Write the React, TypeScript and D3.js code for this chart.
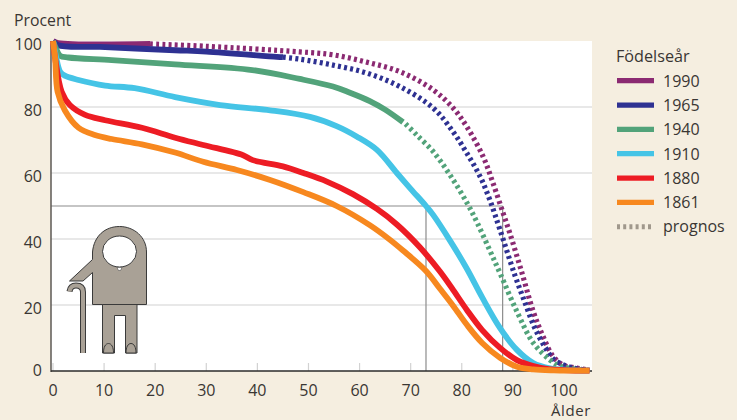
import React, { useRef, useEffect } from 'react';
import * as d3 from 'd3';

const FONT = '"Open Sans", sans-serif';
const TEXT = '#3a3633';

// each series: ages + survival percent. "p" = prognosis (dotted) part
const age1861 = [0, 0.4, 0.9, 2.3, 5, 8.2, 11.5, 17.4, 23.9, 29.4, 36, 42.5, 49, 55.5, 62, 66, 68.5, 73, 75.7, 78.3, 81, 84, 87.5, 90.8, 94, 98, 105];
const val1861 = [100, 95, 84.6, 79, 73.7, 71.5, 70.3, 68.7, 66.2, 63.4, 60.9, 57.9, 54.2, 50, 44.2, 39.7, 36.5, 30.3, 25, 19.8, 14, 8.5, 4, 1.3, 0.5, 0.2, 0.1];

const age1880 = [0, 0.4, 1.7, 3.3, 6.3, 10.2, 17.4, 23.9, 29.4, 37.2, 39.1, 45, 49, 53.6, 58.7, 63.4, 67.3, 71.8, 75.7, 78.3, 81, 84, 87.5, 90.8, 94, 97, 105];
const val1880 = [100, 95, 84.6, 80.6, 77.6, 76, 73.7, 70.7, 68.5, 65.4, 63.9, 62, 60, 57.4, 53.6, 49.1, 44.4, 37.5, 30.2, 24.6, 18.5, 12.4, 7, 3.3, 1.5, 0.6, 0.1];

const age1910 = [0, 0.5, 1.4, 2.3, 5, 10.2, 16, 23.9, 32.7, 42.5, 50.3, 55.5, 59.5, 63.4, 67.3, 70, 73, 74.4, 77.7, 81, 84, 87.5, 90.8, 94, 97, 105];
const val1910 = [100, 96, 90.7, 89.5, 88.2, 86.5, 85.7, 83, 80.6, 79, 77, 74.2, 71, 67, 60, 55.2, 50, 47.3, 39.5, 31, 22.3, 13, 6.4, 2.4, 0.9, 0.1];

const age1940 = [0, 0.5, 1.4, 3, 11.5, 23.9, 39, 48.3, 54.8, 58, 62, 65, 68.5];
const val1940 = [100, 98, 95.5, 95, 94.2, 92.9, 91.2, 88.5, 86.2, 84.4, 81.8, 79.2, 75.4];
const age1940p = [69, 71.2, 74.4, 77.7, 81, 83, 85.5, 87.5, 90.8, 94, 97.3, 99.2, 105];
const val1940p = [74.9, 71.5, 66.5, 59.4, 51, 45, 36.5, 29.6, 18, 8.5, 3.3, 1.5, 0.1];

const age1965 = [0, 1, 9.2, 23.9, 30, 43.8, 45];
const val1965 = [100, 98.7, 98.2, 97.2, 96.8, 95.2, 95.1];
const age1965p = [45, 48.3, 54.8, 61.4, 67.9, 74.4, 78.3, 81, 83.6, 85.5, 87.5, 90.4, 92.4, 94.3, 96.3, 98.2, 101.8, 105];
const val1965p = [95.1, 94.5, 92.7, 90.3, 86.2, 79.7, 72.5, 66, 58.9, 51.8, 42.7, 29, 20.6, 13, 7.2, 3.3, 0.9, 0.2];

const age1990 = [0, 1, 19];
const val1990 = [100, 99.4, 99.1];
const age1990p = [19, 30, 48.3, 54.8, 61.4, 67.9, 74.4, 78.3, 81, 84.2, 86.1, 88.1, 89.4, 91.8, 94, 95.9, 97.8, 99.8, 102.5, 105];
const val1990p = [99.1, 98.4, 96.7, 95.8, 93.6, 90.7, 85.2, 79.7, 74, 64.9, 57, 47.8, 41.8, 29.6, 18, 10.5, 4.6, 1.8, 0.9, 0.3];

const cohorts = ['1990', '1965', '1940', '1910', '1880', '1861'];
const colors = ['#8b2a72', '#2e3192', '#52a37a', '#45c4e6', '#ed1c24', '#f7881f'];
const solidAges = [age1990, age1965, age1940, age1910, age1880, age1861];
const solidVals = [val1990, val1965, val1940, val1910, val1880, val1861];
const dottedAges = [age1990p, age1965p, age1940p, null, null, null];
const dottedVals = [val1990p, val1965p, val1940p, null, null, null];

const xTicks = [0, 10, 20, 30, 40, 50, 60, 70, 80, 90, 100];
const yTicks = [0, 20, 40, 60, 80, 100];
const medianAges = [73, 88];

const App: React.FC = () => {
    const ref = useRef<SVGSVGElement>(null);

    useEffect(() => {
        if (!ref.current) return;
        const svg = d3.select(ref.current);
        svg.selectAll('*').remove();

        const x = d3.scaleLinear().domain([0, 105]).range([53, 589.5]);
        const y = d3.scaleLinear().domain([0, 100]).range([371, 41]);

        svg.append('rect').attr('width', 737).attr('height', 420).attr('fill', '#f5eee0');
        svg.append('rect').attr('x', 51).attr('y', 41).attr('width', 541).attr('height', 330).attr('fill', '#fff');

        // grid
        svg.selectAll('.grid').data(yTicks.filter(d => d > 0 && d < 100)).enter().append('line')
            .attr('x1', 51).attr('x2', 592).attr('y1', d => y(d)).attr('y2', d => y(d))
            .attr('stroke', '#d2d2d2').attr('stroke-width', 1.2);
        svg.selectAll('.xtick').data(xTicks).enter().append('line')
            .attr('x1', d => x(d)).attr('x2', d => x(d)).attr('y1', 371).attr('y2', 363)
            .attr('stroke', '#d2d2d2').attr('stroke-width', 1.2);

        // 50 % guide lines
        svg.append('line').attr('x1', 51).attr('x2', x(medianAges[1])).attr('y1', y(50)).attr('y2', y(50))
            .attr('stroke', '#8c8c8c').attr('stroke-width', 1.2);
        svg.selectAll('.median').data(medianAges).enter().append('line')
            .attr('x1', d => x(d)).attr('x2', d => x(d)).attr('y1', y(50)).attr('y2', 371)
            .attr('stroke', '#8c8c8c').attr('stroke-width', 1.2);

        // axes
        svg.append('line').attr('x1', 51).attr('x2', 51).attr('y1', 41).attr('y2', 372)
            .attr('stroke', '#5c5854').attr('stroke-width', 1.5);
        svg.append('line').attr('x1', 51).attr('x2', 592).attr('y1', 371).attr('y2', 371)
            .attr('stroke', '#2b2b2b').attr('stroke-width', 1.3);

        // figure
        const fig = svg.append('g').attr('stroke', '#3a3a3a').attr('stroke-width', 1);
        fig.append('path')
            .attr('d', 'M92.5 304.5V272.5L83 281H69.5L92.5 259.5V252C94 236 105 226.5 119.5 226.5C134 226.5 146.5 237 146.5 252V304.5Z')
            .attr('fill', '#a9a196');
        fig.append('ellipse').attr('cx', 119.5).attr('cy', 251.5).attr('rx', 17).attr('ry', 15.5).attr('fill', '#fff');
        fig.append('path').attr('d', 'M117 267.5H122L120.5 270.5H118.5Z').attr('fill', '#fff').attr('stroke-width', 0.5);
        fig.append('path')
            .attr('d', 'M102.5 304.5H137V353H125.5V315.5H114.5V353H102.5Z')
            .attr('fill', '#a9a196');
        fig.append('path').attr('d', 'M103.5 353C103.5 347 105.5 343.5 108.5 343.5C111.5 343.5 113.5 347 113.5 353Z').attr('fill', '#a9a196');
        fig.append('path').attr('d', 'M126 353C126 347 128 343.5 131 343.5C134 343.5 136 347 136 353Z').attr('fill', '#a9a196');
        const cane = 'M83 353V292C83 287 80 285.5 76 285.5C72 285.5 70 288 69.5 291.5';
        svg.append('path').attr('d', cane).attr('fill', 'none').attr('stroke', '#3a3a3a').attr('stroke-width', 6);
        svg.append('path').attr('d', cane).attr('fill', 'none').attr('stroke', '#a9a196').attr('stroke-width', 4);

        // curves
        const line = d3.line<[number, number]>()
            .x(d => x(d[0]))
            .y(d => y(d[1]))
            .curve(d3.curveCatmullRom.alpha(0.5));

        cohorts.forEach((c, i) => {
            const da = dottedAges[i];
            const dv = dottedVals[i];
            if (da && dv) {
                svg.append('path')
                    .attr('d', line(da.map((a, k) => [a, dv[k]] as [number, number])))
                    .attr('fill', 'none').attr('stroke', colors[i])
                    .attr('stroke-width', 5.2).attr('stroke-dasharray', '3 3.2');
            }
        });
        cohorts.forEach((c, i) => {
            svg.append('path')
                .attr('d', line(solidAges[i].map((a, k) => [a, solidVals[i][k]] as [number, number])))
                .attr('fill', 'none').attr('stroke', colors[i])
                .attr('stroke-width', 5.8).attr('stroke-linejoin', 'round');
        });

        // tick labels
        const label = (tx: number, ty: number, s: string, anchor = 'start', size = 16) =>
            svg.append('text').attr('x', tx).attr('y', ty).attr('text-anchor', anchor)
                .attr('font-family', FONT).attr('font-size', size).attr('fill', TEXT).text(s);

        yTicks.forEach(d => label(42, y(d) + (d === 0 ? 4.5 : 9), String(d), 'end'));
        xTicks.forEach(d => label(x(d), 396, String(d), 'middle'));
        label(14, 26, 'Procent', 'start', 15.8);
        label(591, 415.5, 'Ålder', 'end', 15).attr('letter-spacing', 0.6);

        // legend
        label(616, 62, 'Födelseår', 'start', 16.2);
        const legendY = d3.scaleLinear().domain([0, 6]).range([80.7, 226.7]);
        cohorts.forEach((c, i) => {
            svg.append('line').attr('x1', 617).attr('x2', 654).attr('y1', legendY(i)).attr('y2', legendY(i))
                .attr('stroke', colors[i]).attr('stroke-width', 5.2);
            label(663, legendY(i) + 6, c);
        });
        svg.append('line').attr('x1', 617).attr('x2', 654).attr('y1', legendY(6)).attr('y2', legendY(6))
            .attr('stroke', '#a0988c').attr('stroke-width', 5).attr('stroke-dasharray', '3 3.2');
        label(663, legendY(6) + 5, 'prognos');
    }, []);

    return <svg ref={ref} width={737} height={420} style={{ position: 'absolute', left: 0, top: 0 }}></svg>;
};

export default App;
